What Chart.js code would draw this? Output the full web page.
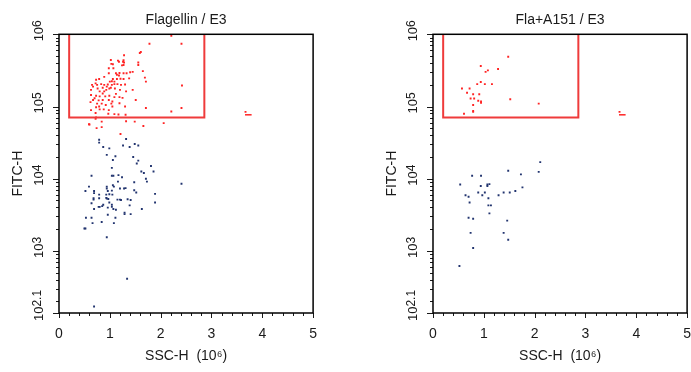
<!DOCTYPE html>
<html>
<head>
<meta charset="utf-8">
<script src="https://cdn.jsdelivr.net/npm/chart.js@4.4.1/dist/chart.umd.min.js"></script>
<style>
  html, body { margin: 0; padding: 0; background: #fff; overflow: hidden; }
  body { width: 691px; height: 372px; position: relative; }
  .panel { position: absolute; top: 0; width: 330px; height: 372px; }
</style>
</head>
<body>
<div class="panel" style="left:0"><canvas id="flaChart" width="330" height="372"></canvas></div>
<div class="panel" style="left:374px"><canvas id="a151Chart" width="330" height="372"></canvas></div>
<script>
// Flow plots: SSC-H (x, 10^6) vs FITC-H (y, log). Y values kept as log10 exponents.

// Flagellin / E3 - events inside / near the gate (red)
const flaRedX = [2.21, 1.78, 2.41, 1.61, 1.59, 1.28, 1.02, 1.27, 1.26, 1.28, 1.18, 1.56, 1.56, 1.03, 1.06, 1.24, 1.27, 0.98, 1.07, 1.45,
  1.40, 1.65, 0.98, 1.12, 1.19, 1.27, 1.14, 1.18, 1.06, 1.14, 1.21, 1.27, 1.04, 1.00, 1.09, 1.69, 1.71, 0.73, 0.72, 0.83,
  0.89, 0.96, 1.04, 1.09, 1.15, 1.22, 1.30, 0.65, 0.67, 0.76, 0.86, 0.93, 0.99, 1.02, 2.42, 0.89, 0.80, 0.86, 0.63, 0.63,
  0.73, 0.80, 0.91, 0.99, 1.09, 1.19, 1.25, 0.67, 0.78, 0.86, 0.98, 0.62, 0.75, 0.84, 0.92, 1.03, 0.73, 0.80, 0.98, 0.88,
  1.71, 2.21, 2.41, 0.72, 0.97, 1.09, 1.17, 1.31,
  0.79, 0.89, 0.75, 0.94, 1.10, 1.20, 1.32, 1.12, 0.70, 1.05, 1.19, 0.79, 1.05, 0.63, 1.16, 1.33, 1.38, 1.45, 1.30, 1.51,
  0.73, 0.72, 0.59, 0.74, 0.84, 1.32, 1.49, 1.66, 2.06, 0.84, 0.60, 1.21];
const flaRedY = [5.98, 5.87, 5.87, 5.755, 5.74, 5.71, 5.645, 5.64, 5.62, 5.61, 5.62, 5.61, 5.575, 5.59, 5.585, 5.57, 5.575, 5.53, 5.53, 5.48,
  5.475, 5.49, 5.46, 5.46, 5.465, 5.46, 5.44, 5.43, 5.38, 5.38, 5.385, 5.38, 5.35, 5.345, 5.345, 5.40, 5.345, 5.37, 5.32, 5.31,
  5.30, 5.305, 5.30, 5.31, 5.31, 5.30, 5.305, 5.30, 5.275, 5.25, 5.26, 5.23, 5.25, 5.26, 5.29, 5.21, 5.21, 5.18, 5.23, 5.16,
  5.15, 5.14, 5.14, 5.15, 5.13, 5.13, 5.12, 5.09, 5.085, 5.09, 5.09, 5.06, 5.04, 5.04, 5.02, 5.04, 4.99, 4.96, 4.95, 4.96,
  4.98, 4.93, 4.98, 4.91, 4.90, 4.895, 4.89, 4.885,
  5.38, 5.41, 5.30, 5.275, 5.25, 5.23, 5.21, 5.175, 5.115, 5.07, 5.045, 5.00, 5.00, 4.95, 5.635, 5.46, 5.39, 5.23, 5.00, 5.09,
  4.85, 4.83, 4.755, 4.70, 4.715, 4.795, 4.79, 4.73, 4.77, 4.79, 4.75, 4.62];

// Flagellin / E3 - remaining events (blue)
const flaBlueX = [1.32, 0.79, 0.79, 0.87, 0.99, 1.26, 1.39, 1.49, 1.56, 0.94, 1.11, 1.46, 1.06, 1.56, 1.53, 1.04, 1.81, 1.62, 1.67, 1.86,
  0.64, 1.04, 1.07, 1.17, 1.24, 1.71, 1.73, 1.16, 1.48, 2.41, 0.59, 0.94, 0.94, 1.06, 1.08, 1.20, 1.28, 1.31, 0.52, 0.69,
  0.69, 0.96, 1.04, 1.48, 1.52, 0.79, 0.93, 0.99, 1.05, 1.89, 0.68, 0.68, 0.79, 0.93, 0.94, 1.15, 1.20, 1.22, 1.35, 1.41,
  0.64, 0.97, 0.99, 1.89, 0.87, 0.85, 0.78, 0.80, 1.04, 1.04, 1.39, 0.69, 0.96, 1.07, 1.12, 1.63, 1.29, 1.29, 1.41, 0.96,
  0.53, 0.64, 1.11, 0.66, 1.08, 0.84, 0.50, 0.52, 0.94, 1.34, 0.69];
const flaBlueY = [4.55, 4.54, 4.50, 4.44, 4.42, 4.46, 4.44, 4.48, 4.46, 4.33, 4.31, 4.30, 4.26, 4.25, 4.21, 4.15, 4.175, 4.10, 4.08, 4.10,
  4.04, 4.04, 4.04, 4.05, 4.02, 4.00, 3.96, 3.96, 3.95, 3.93, 3.89, 3.89, 3.865, 3.91, 3.89, 3.865, 3.865, 3.87, 3.83, 3.83,
  3.80, 3.83, 3.835, 3.84, 3.81, 3.78, 3.78, 3.785, 3.78, 3.79, 3.73, 3.71, 3.73, 3.735, 3.725, 3.71, 3.71, 3.705, 3.715, 3.705,
  3.66, 3.72, 3.67, 3.67, 3.64, 3.62, 3.61, 3.61, 3.64, 3.61, 3.63, 3.58, 3.60, 3.58, 3.57, 3.58, 3.53, 3.51, 3.51, 3.50,
  3.46, 3.46, 3.46, 3.385, 3.385, 3.40, 3.31, 3.31, 3.19, 2.615, 2.23];

// Fla+A151 / E3 - gated events (red)
const a151RedX = [1.48, 0.94, 1.08, 1.035, 1.28, 0.87, 0.94, 1.02, 1.16, 0.57, 0.72, 0.67, 0.79, 0.91, 0.74, 0.81, 0.89, 0.945, 0.945, 1.52,
  2.08, 0.79, 0.79, 0.79, 0.61];
const a151RedY = [5.69, 5.56, 5.50, 5.48, 5.52, 5.31, 5.34, 5.31, 5.31, 5.25, 5.25, 5.19, 5.17, 5.17, 5.11, 5.11, 5.08, 5.07, 5.05, 5.10,
  5.04, 5.02, 4.94, 4.925, 4.90];

// Fla+A151 / E3 - remaining events (blue)
const a151BlueX = [2.11, 2.08, 1.48, 1.73, 0.77, 0.945, 0.535, 0.94, 1.07, 1.11, 1.07, 1.76, 0.64, 0.70, 0.89, 1.02, 0.97, 1.39, 1.51, 1.62,
  1.29, 1.09, 0.72, 1.09, 1.14, 1.11, 0.70, 0.79, 1.46, 0.74, 1.39, 1.48, 0.79, 0.52];
const a151BlueY = [4.23, 4.095, 4.11, 4.06, 4.04, 4.04, 3.92, 3.90, 3.92, 3.925, 3.90, 3.88, 3.77, 3.75, 3.81, 3.81, 3.77, 3.81, 3.81, 3.83,
  3.77, 3.73, 3.67, 3.63, 3.63, 3.52, 3.46, 3.445, 3.42, 3.25, 3.25, 3.155, 3.04, 2.79];

// Gate rectangle (open at top, top edge sits on the frame) and gate label mark
const gateX = [0.2, 0.2, 2.86, 2.86];
const gateY = [6, 4.847, 4.847, 6];
const markX = [3.66, 3.79];
const markY = [4.885, 4.885];
const markDotX = [3.67];
const markDotY = [4.925];

// Axis
const yExpMin = 2.14;
const yTickExps = [6, 5, 4, 3, 2.14];
const yTickSup = ['6', '5', '4', '3', '2.1'];

const FONT = "'Liberation Sans', Arial, sans-serif";
const RED = '#ff2424';
const GATE_RED = '#ef3b3b';
const BLUE = '#22346f';
const INK = '#1a1a1a';

function toPoints(xs, exps) {
    return xs.map((x, i) => ({ x: x, y: Math.pow(10, exps[i]) }));
}

// frame, tick marks and 10^n labels
const axisDecor = {
    id: 'axisDecor',
    afterDatasetsDraw(chart) {
        const ctx = chart.ctx;
        const a = chart.chartArea;
        const xs = chart.scales.x;
        const ys = chart.scales.y;
        ctx.save();
        ctx.strokeStyle = INK;
        ctx.lineWidth = 1;
        // x ticks every 0.2
        for (let i = 0; i <= 25; i++) {
            const px = Math.round(xs.getPixelForValue(i * 0.2)) + 0.5;
            const len = i % 5 === 0 ? 5 : 3;
            ctx.beginPath();
            ctx.moveTo(px, a.bottom);
            ctx.lineTo(px, a.bottom + len);
            ctx.stroke();
        }
        // y log ticks
        for (let k = 2; k <= 6; k++) {
            for (let m = 1; m <= 9; m++) {
                const v = m * Math.pow(10, k);
                if (v < ys.min || v > ys.max) continue;
                const py = Math.round(ys.getPixelForValue(v)) + 0.5;
                const len = m === 1 ? 6 : 3;
                ctx.beginPath();
                ctx.moveTo(a.left, py);
                ctx.lineTo(a.left - len, py);
                ctx.stroke();
            }
        }
        const pyMin = Math.round(ys.getPixelForValue(ys.min)) + 0.5;
        ctx.beginPath();
        ctx.moveTo(a.left, pyMin);
        ctx.lineTo(a.left - 6, pyMin);
        ctx.stroke();

        // frame
        ctx.lineWidth = 1.5;
        ctx.strokeStyle = '#000';
        ctx.strokeRect(a.left, a.top, a.right - a.left, a.bottom - a.top);

        // rotated y labels: 10 with raised exponent
        ctx.fillStyle = INK;
        ctx.textBaseline = 'alphabetic';
        ctx.textAlign = 'left';
        yTickExps.forEach((e, i) => {
            let py = ys.getPixelForValue(Math.pow(10, e)) - 3.5;
            if (i === yTickExps.length - 1) py -= 4;
            ctx.save();
            ctx.translate(a.left - 16, py);
            ctx.rotate(-Math.PI / 2);
            ctx.font = '13px ' + FONT;
            const w1 = ctx.measureText('10').width;
            ctx.font = '12px ' + FONT;
            const w2 = ctx.measureText(yTickSup[i]).width;
            const start = -(w1 + w2) / 2;
            ctx.font = '13px ' + FONT;
            ctx.fillText('10', start, 0);
            ctx.font = '12px ' + FONT;
            ctx.fillText(yTickSup[i], start + w1, -2);
            ctx.restore();
        });
        ctx.restore();
    }
};

function buildChart(id, title, redX, redY, blueX, blueY) {
    const pointSet = (label, xs, ys, color) => ({
        label: label,
        data: toPoints(xs, ys),
        backgroundColor: color,
        borderColor: color,
        borderWidth: 0,
        pointStyle: 'rect',
        pointRadius: 1.35,
        pointHoverRadius: 1.35
    });
    return new Chart(document.getElementById(id), {
        type: 'scatter',
        data: {
            datasets: [
                { label: 'gate', data: toPoints(gateX, gateY), showLine: true, borderColor: GATE_RED, borderWidth: 2, pointRadius: 0, fill: false },
                { label: 'mark', data: toPoints(markX, markY), showLine: true, borderColor: RED, borderWidth: 1.5, pointRadius: 0, clip: false },
                pointSet('mark dot', markDotX, markDotY, RED),
                pointSet('gated', redX, redY, RED),
                pointSet('other', blueX, blueY, BLUE)
            ]
        },
        options: {
            responsive: false,
            animation: false,
            devicePixelRatio: 1,
            layout: { padding: { left: 0, right: 15, top: 0, bottom: 0 } },
            plugins: {
                legend: { display: false },
                tooltip: { enabled: false },
                title: {
                    display: true,
                    text: title,
                    fullSize: false,
                    color: INK,
                    font: { family: FONT, size: 14, weight: 'normal' },
                    padding: { top: 12, bottom: 5.5 }
                }
            },
            scales: {
                x: {
                    type: 'linear',
                    min: 0,
                    max: 5,
                    border: { display: false },
                    grid: { display: false, drawTicks: false },
                    ticks: { stepSize: 1, padding: 13, color: INK, font: { family: FONT, size: 14 } },
                    title: { display: true, text: 'SSC-H  (10\u2076)', color: INK, font: { family: FONT, size: 14 }, padding: { top: 0, bottom: 7 } },
                    afterFit: (s) => { s.height = 59; }
                },
                y: {
                    type: 'logarithmic',
                    min: Math.pow(10, yExpMin),
                    max: 1e6,
                    border: { display: false },
                    grid: { display: false, drawTicks: false },
                    ticks: { display: false },
                    title: { display: true, text: 'FITC-H', color: INK, font: { family: FONT, size: 14 }, padding: { top: 10, bottom: 0 } },
                    afterFit: (s) => { s.width = 59; }
                }
            }
        },
        plugins: [axisDecor]
    });
}

buildChart('flaChart', 'Flagellin / E3', flaRedX, flaRedY, flaBlueX, flaBlueY);
buildChart('a151Chart', 'Fla+A151 / E3', a151RedX, a151RedY, a151BlueX, a151BlueY);
</script>
</body>
</html>
